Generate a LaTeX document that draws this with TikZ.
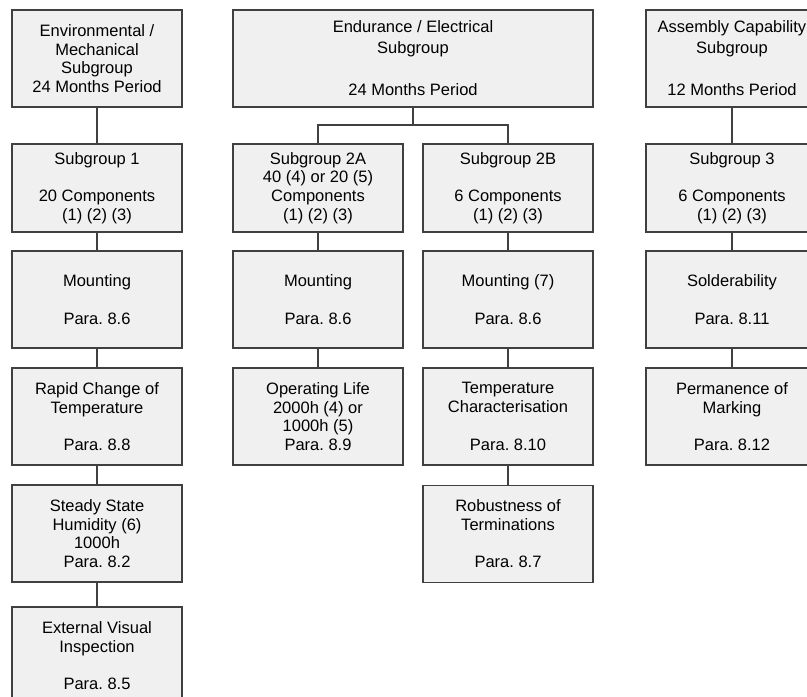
\documentclass[tikz,border=0pt]{standalone}
\usepackage{fontspec}
\setmainfont{Liberation Sans}
\frenchspacing
\begin{document}
\begin{tikzpicture}[x=1pt,y=-1pt,
  blk/.style={draw=black!75, fill=black!6, line width=1.3pt, minimum width=170pt,
    minimum height=97pt, inner sep=0pt, align=center, font=\fontsize{16.5}{18.7}\selectfont},
  head/.style={blk, font=\fontsize{16.5}{21}\selectfont},
  grp/.style={blk, minimum height=88pt},
  link/.style={draw=black!75, line width=1.3pt}]
\clip (0,0) rectangle (807,697);
\node[blk] (envir) at (97,58.5) {Environmental /\\Mechanical\\Subgroup\\24 Months Period};
\node[grp] (sub1) at (97,188) {Subgroup 1\\[18.5pt]20 Components\\(1) (2) (3)};
\node[blk] (mount1) at (97,299.5) {Mounting\\[18.5pt]Para. 8.6};
\node[blk] (rapid) at (97,416.5) {Rapid Change of\\Temperature\\[18.5pt]Para. 8.8};
\node[blk] (humid) at (97,533.5) {Steady State\\Humidity (6)\\1000h\\Para. 8.2};
\node[blk] (visual) at (97,655.5) {External Visual\\Inspection\\[18.5pt]Para. 8.5};
\node[head, minimum width=360pt] (endur) at (413,58.5) {Endurance / Electrical\\Subgroup\\[21pt]24 Months Period};
\node[grp] (sub2a) at (318,188) {Subgroup 2A\\40 (4) or 20 (5)\\Components\\(1) (2) (3)};
\node[blk] (mount2a) at (318,299.5) {Mounting\\[18.5pt]Para. 8.6};
\node[blk] (life) at (318,416.5) {Operating Life\\2000h (4) or\\1000h (5)\\Para. 8.9};
\node[grp] (sub2b) at (508,188) {Subgroup 2B\\[18.5pt]6 Components\\(1) (2) (3)};
\node[blk] (mount2b) at (508,299.5) {Mounting (7)\\[18.5pt]Para. 8.6};
\node[blk] (tchar) at (508,416.5) {Temperature\\Characterisation\\[20pt]Para. 8.10};
\node[blk] (robust) at (508,534) {Robustness of\\Terminations\\[18.5pt]Para. 8.7};
\node[head, minimum width=172pt] (assem) at (732,58.5) {Assembly Capability\\Subgroup\\[21pt]12 Months Period};
\node[grp, minimum width=172pt] (sub3) at (732,188) {Subgroup 3\\[18.5pt]6 Components\\(1) (2) (3)};
\node[blk, minimum width=172pt] (solder) at (732,299.5) {Solderability\\[18.5pt]Para. 8.11};
\node[blk, minimum width=172pt] (marking) at (732,416.5) {Permanence of\\Marking\\[18.5pt]Para. 8.12};
\coordinate (split) at (413,125);
\draw[link] (envir) -- (sub1) -- (mount1) -- (rapid) -- (humid) -- (visual);
\draw[link] (endur.south) -- (split);
\draw[link] (sub2a.north) |- (split) -| (sub2b.north);
\draw[link] (sub2a) -- (mount2a) -- (life);
\draw[link] (sub2b) -- (mount2b) -- (tchar) -- (robust);
\draw[link] (assem) -- (sub3) -- (solder) -- (marking);
\end{tikzpicture}
\end{document}
